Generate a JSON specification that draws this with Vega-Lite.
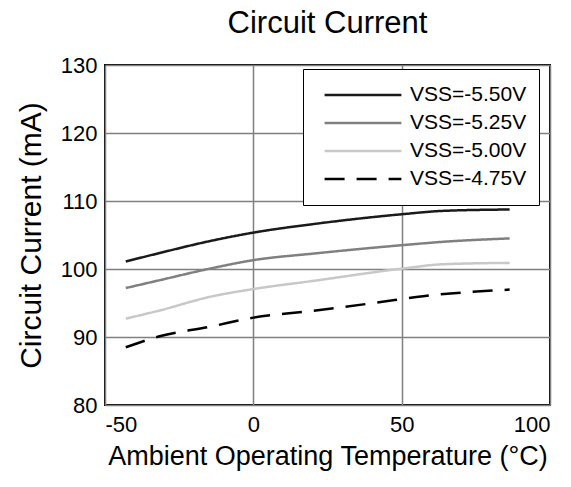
{
  "$schema": "https://vega.github.io/schema/vega-lite/v6.json",
  "autosize": "none",
  "width": 445,
  "height": 340,
  "padding": {"left": 105, "top": 65, "right": 21, "bottom": 82},
  "background": "white",
  "title": {"text": "Circuit Current", "font": "Liberation Sans", "fontSize": 31, "fontWeight": "normal", "color": "black", "offset": 14, "anchor": "middle"},
  "config": {
    "view": {"stroke": "black", "strokeWidth": 2},
    "axis": {"labelFont": "Liberation Sans", "titleFont": "Liberation Sans", "labelColor": "black", "titleColor": "black", "labelFontSize": 22, "titleFontSize": 27, "titleFontWeight": "normal", "ticks": false, "domain": false, "gridColor": "#808080", "gridWidth": 1.5, "gridOpacity": 1, "labelExpr": "'' + datum.value"}
  },
  "data": {"values": [
    {"t": -43, "v": 101.1, "s": "VSS=-5.50V"},
    {"t": -31.6, "v": 102.35, "s": "VSS=-5.50V"},
    {"t": -14.7, "v": 104.1, "s": "VSS=-5.50V"},
    {"t": 0, "v": 105.35, "s": "VSS=-5.50V"},
    {"t": 21, "v": 106.65, "s": "VSS=-5.50V"},
    {"t": 50, "v": 108.05, "s": "VSS=-5.50V"},
    {"t": 64, "v": 108.55, "s": "VSS=-5.50V"},
    {"t": 86.4, "v": 108.75, "s": "VSS=-5.50V"},
    {"t": -43, "v": 97.2, "s": "VSS=-5.25V"},
    {"t": -31.6, "v": 98.35, "s": "VSS=-5.25V"},
    {"t": -14.7, "v": 100.05, "s": "VSS=-5.25V"},
    {"t": 0, "v": 101.3, "s": "VSS=-5.25V"},
    {"t": 21, "v": 102.3, "s": "VSS=-5.25V"},
    {"t": 50, "v": 103.5, "s": "VSS=-5.25V"},
    {"t": 64, "v": 104.0, "s": "VSS=-5.25V"},
    {"t": 86.4, "v": 104.5, "s": "VSS=-5.25V"},
    {"t": -43, "v": 92.7, "s": "VSS=-5.00V"},
    {"t": -31.6, "v": 93.9, "s": "VSS=-5.00V"},
    {"t": -14.7, "v": 95.9, "s": "VSS=-5.00V"},
    {"t": 0, "v": 97.05, "s": "VSS=-5.00V"},
    {"t": 21, "v": 98.3, "s": "VSS=-5.00V"},
    {"t": 50, "v": 100.05, "s": "VSS=-5.00V"},
    {"t": 64, "v": 100.7, "s": "VSS=-5.00V"},
    {"t": 86.4, "v": 100.9, "s": "VSS=-5.00V"},
    {"t": -43, "v": 88.5, "s": "VSS=-4.75V"},
    {"t": -31.6, "v": 90.1, "s": "VSS=-4.75V"},
    {"t": -14.7, "v": 91.5, "s": "VSS=-4.75V"},
    {"t": 0, "v": 92.85, "s": "VSS=-4.75V"},
    {"t": 19, "v": 93.8, "s": "VSS=-4.75V"},
    {"t": 41.5, "v": 95.05, "s": "VSS=-4.75V"},
    {"t": 57.2, "v": 96.0, "s": "VSS=-4.75V"},
    {"t": 86.4, "v": 96.97, "s": "VSS=-4.75V"}
  ]},
  "mark": {"type": "line", "strokeWidth": 2.5, "interpolate": "monotone"},
  "encoding": {
    "x": {"field": "t", "type": "quantitative", "scale": {"domain": [-50, 100], "nice": false}, "axis": {"values": [-50, 0, 50, 100], "title": "Ambient Operating Temperature (°C)", "labelPadding": 9, "titlePadding": 8}},
    "y": {"field": "v", "type": "quantitative", "scale": {"domain": [80, 130], "nice": false, "zero": false}, "axis": {"values": [80, 90, 100, 110, 120, 130], "title": "Circuit Current (mA)", "titleFontSize": 30, "labelPadding": 8, "titlePadding": 14}},
    "color": {"field": "s", "type": "nominal", "sort": null, "scale": {"domain": ["VSS=-5.50V", "VSS=-5.25V", "VSS=-5.00V", "VSS=-4.75V"], "range": ["#1a1a1a", "#808080", "#c8c8c8", "#000000"]},
      "legend": {"title": null, "orient": "none", "legendX": 198, "legendY": 4, "symbolType": "stroke", "symbolSize": 5900, "symbolStrokeWidth": 2.5, "symbolOffset": 8, "clipHeight": 28, "rowPadding": 0, "labelFont": "Liberation Sans", "labelFontSize": 21, "labelColor": "black", "strokeColor": "black", "fillColor": "white", "padding": 12, "labelOffset": 7}},
    "strokeDash": {"field": "s", "type": "nominal", "sort": null, "scale": {"domain": ["VSS=-5.50V", "VSS=-5.25V", "VSS=-5.00V", "VSS=-4.75V"], "range": [[1, 0], [1, 0], [1, 0], [20, 12]]}, "legend": null}
  }
}
